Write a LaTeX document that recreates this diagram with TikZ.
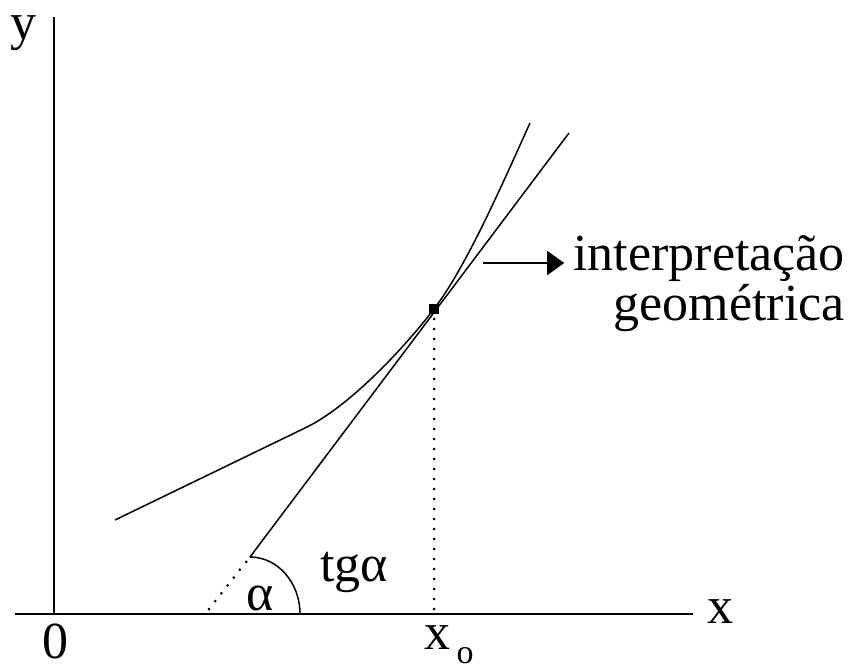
\documentclass[tikz,border=0pt]{standalone}
\usepackage{fontspec}
\setmainfont{Liberation Serif}
\usetikzlibrary{arrows.meta}

\begin{document}
\begin{tikzpicture}[
    x=1pt,y=-1pt,>={Triangle[length=17pt,width=24pt]},
    every node/.style={inner sep=0pt,font=\fontsize{52}{50}\selectfont},
    axis/.style={line width=2.6pt},
    curve/.style={line width=1.5pt},
    guide/.style={line width=3pt,dash pattern=on 0pt off 10pt,line cap=round},
    sublabel/.style={font=\fontsize{34}{34}\selectfont}
  ]
  \useasboundingbox (0,0) rectangle (853,671);
  \coordinate (orig) at (54,614);
  \coordinate (xend) at (693,614);
  \coordinate (xstart) at (15,614);
  \coordinate (ytop) at (54,17);
  \coordinate (P) at (434,309);
  \coordinate (T0) at (209,609);
  \coordinate (T1) at (250,557);
  \coordinate (T2) at (569,133);
  \coordinate (ar) at (483,263);
  \draw[axis] (xstart) -- (xend);
  \draw[axis] (orig) -- (ytop);
  \node[anchor=base] (ylab) at (23,40) {y};
  \node[anchor=base] (xlab) at (720,623) {x};
  \node[anchor=base] (zero) at (55,658) {0};
  \node[anchor=base] (x0) at (437,649) {x};
  \node[anchor=base,sublabel] (x0sub) at (465,663) {o};
  \draw[curve] (115,520) -- (305,428) .. controls (347,408) and (401,352) .. (P)
    .. controls (467,266) and (505,178) .. (530,123);
  \draw[guide] (T0) -- (T1);
  \draw[curve] (T1) -- (T2);
  \draw[guide] (P) -- (P |- orig);
  \fill (P) ++(-5,-5) rectangle ++(10,10);
  \draw[curve] (T1) arc[start angle=270,end angle=360,x radius=50,y radius=57];
  \node[anchor=base] (alpha) at (260,610) {α};
  \node[anchor=base west] (tga) at (320,581) {tgα};
  \node[anchor=base east,align=right] (lbl) at (845,320) {interpretação\\geométrica};
  \draw[->,line width=1.6pt,shorten >=9pt] (ar) -- (ar -| lbl.west);
\end{tikzpicture}
\end{document}
